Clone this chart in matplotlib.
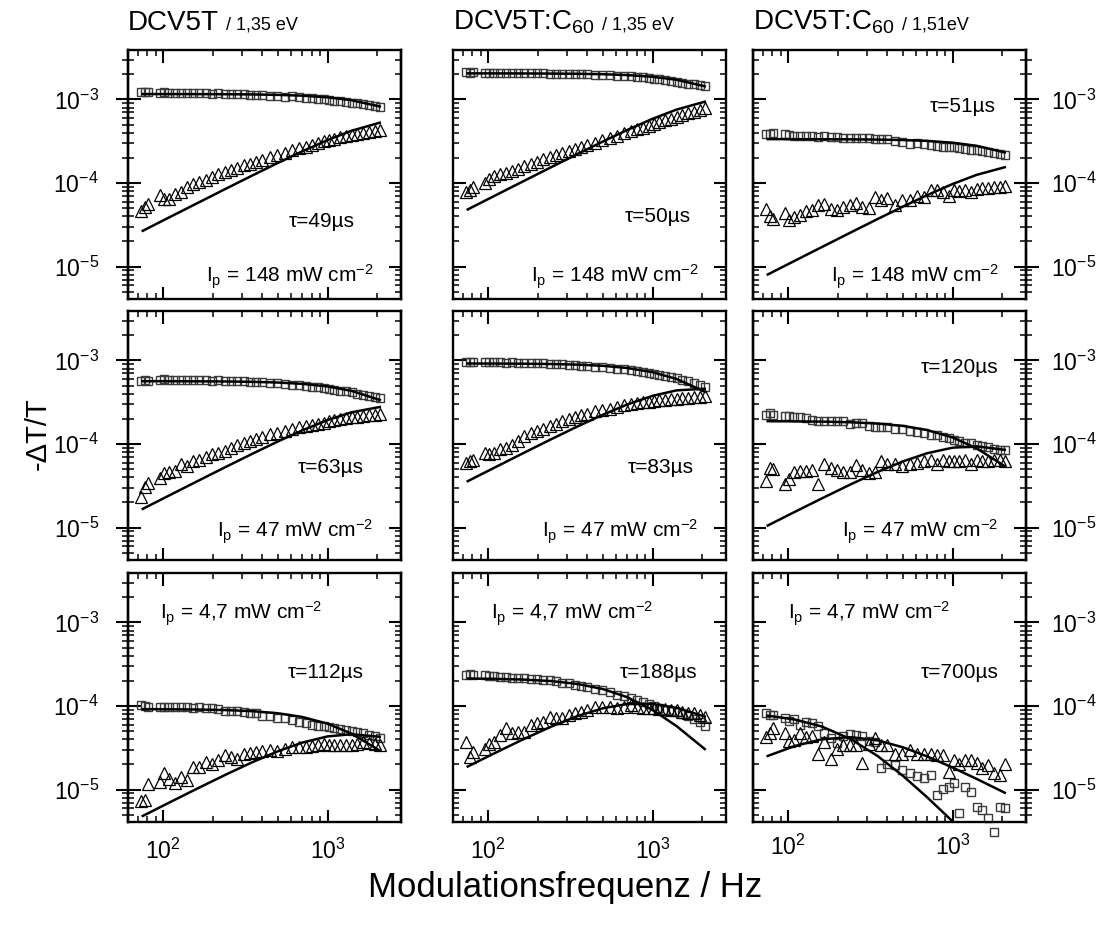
import matplotlib
matplotlib.use("Agg")
import matplotlib.pyplot as plt
from matplotlib.ticker import LogLocator, NullFormatter

plt.rcParams['font.family'] = ['Liberation Sans', 'DejaVu Sans']
plt.rcParams['mathtext.fontset'] = 'custom'
plt.rcParams['mathtext.rm'] = 'Liberation Sans'
plt.rcParams['mathtext.it'] = 'Liberation Sans:italic'
plt.rcParams['mathtext.bf'] = 'Liberation Sans:bold'

# measurement frequencies (Hz) and frequencies used for the fit curves
freq = [73, 77, 81, 95, 101, 108, 118, 128, 140, 152, 166, 181, 198, 216, 236, 258, 282, 308, 336, 367,
        400, 445, 495, 550, 610, 670, 735, 800, 870, 945, 1020, 1100, 1190, 1290, 1400, 1520, 1650, 1790, 1940, 2080]
fit_freq = [75, 110, 160, 240, 350, 500, 700, 1000, 1400, 2080]

# row 1: I_p = 148 mW cm-2
sq_00 = [1.21e-3, 1.22e-3, 1.21e-3, 1.20e-3, 1.21e-3, 1.20e-3, 1.19e-3, 1.20e-3, 1.19e-3, 1.18e-3,
         1.19e-3, 1.18e-3, 1.17e-3, 1.18e-3, 1.17e-3, 1.16e-3, 1.15e-3, 1.15e-3, 1.14e-3, 1.13e-3,
         1.12e-3, 1.11e-3, 1.10e-3, 1.08e-3, 1.09e-3, 1.07e-3, 1.05e-3, 1.03e-3, 1.01e-3, 1.00e-3,
         0.98e-3, 0.96e-3, 0.95e-3, 0.93e-3, 0.91e-3, 0.90e-3, 0.88e-3, 0.86e-3, 0.84e-3, 0.82e-3]
tri_00 = [4.6e-5, 5.1e-5, 5.6e-5, 7.1e-5, 6.5e-5, 6.4e-5, 7.4e-5, 7.8e-5, 8.9e-5, 9.8e-5,
          1.03e-4, 1.1e-4, 1.18e-4, 1.27e-4, 1.36e-4, 1.42e-4, 1.5e-4, 1.63e-4, 1.7e-4, 1.78e-4,
          1.9e-4, 2.05e-4, 2.15e-4, 2.3e-4, 2.45e-4, 2.6e-4, 2.72e-4, 2.85e-4, 3.0e-4, 3.15e-4,
          3.3e-4, 3.4e-4, 3.55e-4, 3.63e-4, 3.73e-4, 3.85e-4, 3.98e-4, 4.1e-4, 4.2e-4, 4.36e-4]
sq_fit_00 = [1.159e-3, 1.159e-3, 1.157e-3, 1.154e-3, 1.147e-3, 1.133e-3, 1.109e-3, 1.060e-3, 0.978e-3, 0.823e-3]
tri_fit_00 = [2.68e-5, 3.93e-5, 5.70e-5, 8.53e-5, 1.236e-4, 1.744e-4, 2.389e-4, 3.262e-4, 4.217e-4, 5.27e-4]

sq_01 = [2.10e-3, 2.09e-3, 2.10e-3, 2.08e-3, 2.08e-3, 2.09e-3, 2.07e-3, 2.08e-3, 2.07e-3, 2.06e-3,
         2.07e-3, 2.06e-3, 2.05e-3, 2.05e-3, 2.04e-3, 2.03e-3, 2.03e-3, 2.02e-3, 2.01e-3, 2.00e-3,
         1.99e-3, 1.98e-3, 1.96e-3, 1.95e-3, 1.93e-3, 1.91e-3, 1.88e-3, 1.85e-3, 1.83e-3, 1.80e-3,
         1.77e-3, 1.74e-3, 1.70e-3, 1.66e-3, 1.62e-3, 1.58e-3, 1.55e-3, 1.52e-3, 1.48e-3, 1.45e-3]
tri_01 = [7.8e-5, 8.3e-5, 8.9e-5, 9.9e-5, 1.12e-4, 1.2e-4, 1.28e-4, 1.32e-4, 1.38e-4, 1.48e-4,
          1.58e-4, 1.7e-4, 1.8e-4, 1.95e-4, 2.02e-4, 2.15e-4, 2.3e-4, 2.4e-4, 2.55e-4, 2.7e-4,
          2.85e-4, 3.05e-4, 3.25e-4, 3.45e-4, 3.7e-4, 3.95e-4, 4.15e-4, 4.4e-4, 4.6e-4, 4.85e-4,
          5.1e-4, 5.4e-4, 5.65e-4, 5.9e-4, 6.2e-4, 6.5e-4, 6.8e-4, 7.1e-4, 7.45e-4, 7.8e-4]
sq_fit_01 = [2.049e-3, 2.048e-3, 2.045e-3, 2.038e-3, 2.025e-3, 2.001e-3, 1.955e-3, 1.866e-3, 1.718e-3, 1.436e-3]
tri_fit_01 = [4.83e-5, 7.08e-5, 1.028e-4, 1.537e-4, 2.228e-4, 3.143e-4, 4.300e-4, 5.863e-4, 7.556e-4, 9.386e-4]

sq_02 = [3.9e-4, 3.85e-4, 4.0e-4, 3.9e-4, 3.75e-4, 3.7e-4, 3.68e-4, 3.62e-4, 3.65e-4, 3.6e-4,
         3.63e-4, 3.58e-4, 3.55e-4, 3.48e-4, 3.5e-4, 3.45e-4, 3.46e-4, 3.42e-4, 3.35e-4, 3.38e-4,
         3.32e-4, 3.2e-4, 3.12e-4, 2.96e-4, 3.05e-4, 2.9e-4, 2.85e-4, 2.8e-4, 2.72e-4, 2.68e-4,
         2.7e-4, 2.62e-4, 2.56e-4, 2.5e-4, 2.47e-4, 2.4e-4, 2.35e-4, 2.28e-4, 2.24e-4, 2.19e-4]
tri_02 = [4.9e-5, 4.0e-5, 3.75e-5, 4.4e-5, 3.6e-5, 3.9e-5, 4.2e-5, 4.6e-5, 4.8e-5, 5.5e-5,
          5.6e-5, 4.9e-5, 4.8e-5, 5.2e-5, 5.5e-5, 5.75e-5, 5.15e-5, 5.0e-5, 6.8e-5, 6.2e-5,
          6.7e-5, 5.5e-5, 6.3e-5, 6.3e-5, 6.9e-5, 6.8e-5, 8.2e-5, 8.3e-5, 7.8e-5, 6.9e-5,
          8.3e-5, 8.0e-5, 8.2e-5, 7.8e-5, 8.5e-5, 8.8e-5, 8.8e-5, 9.0e-5, 9.0e-5, 9.1e-5]
sq_fit_02 = [3.348e-4, 3.346e-4, 3.341e-4, 3.330e-4, 3.308e-4, 3.266e-4, 3.190e-4, 3.038e-4, 2.789e-4, 2.319e-4]
tri_fit_02 = [8.05e-6, 1.18e-5, 1.713e-5, 2.561e-5, 3.712e-5, 5.232e-5, 7.155e-5, 9.734e-5, 1.251e-4, 1.546e-4]

# row 2: I_p = 47 mW cm-2
sq_10 = [5.75e-4, 5.8e-4, 5.75e-4, 5.9e-4, 5.92e-4, 5.85e-4, 5.9e-4, 5.85e-4, 5.88e-4, 5.82e-4,
         5.85e-4, 5.8e-4, 5.75e-4, 5.78e-4, 5.72e-4, 5.68e-4, 5.65e-4, 5.6e-4, 5.55e-4, 5.5e-4,
         5.45e-4, 5.4e-4, 5.3e-4, 5.25e-4, 5.15e-4, 5.05e-4, 4.95e-4, 4.85e-4, 4.75e-4, 4.65e-4,
         4.55e-4, 4.45e-4, 4.35e-4, 4.25e-4, 4.15e-4, 4.0e-4, 3.9e-4, 3.8e-4, 3.68e-4, 3.56e-4]
tri_10 = [2.3e-5, 3.1e-5, 3.4e-5, 3.9e-5, 4.5e-5, 4.6e-5, 4.7e-5, 5.8e-5, 5.5e-5, 6.3e-5,
          6.5e-5, 7.0e-5, 7.5e-5, 7.8e-5, 8.3e-5, 9.0e-5, 9.8e-5, 1.03e-4, 1.1e-4, 1.16e-4,
          1.22e-4, 1.3e-4, 1.36e-4, 1.43e-4, 1.52e-4, 1.58e-4, 1.65e-4, 1.7e-4, 1.75e-4, 1.8e-4,
          1.86e-4, 1.92e-4, 1.97e-4, 2.02e-4, 2.08e-4, 2.12e-4, 2.16e-4, 2.2e-4, 2.25e-4, 2.3e-4]
sq_fit_10 = [5.645e-4, 5.639e-4, 5.627e-4, 5.599e-4, 5.544e-4, 5.437e-4, 5.247e-4, 4.885e-4, 4.323e-4, 3.367e-4]
tri_fit_10 = [1.676e-5, 2.455e-5, 3.564e-5, 5.319e-5, 7.678e-5, 1.076e-4, 1.454e-4, 1.933e-4, 2.396e-4, 2.772e-4]

sq_11 = [9.5e-4, 9.6e-4, 9.55e-4, 9.5e-4, 9.55e-4, 9.5e-4, 9.45e-4, 9.4e-4, 9.45e-4, 9.4e-4,
         9.35e-4, 9.3e-4, 9.25e-4, 9.2e-4, 9.1e-4, 9.05e-4, 8.95e-4, 8.85e-4, 8.75e-4, 8.65e-4,
         8.55e-4, 8.45e-4, 8.3e-4, 8.2e-4, 8.0e-4, 7.85e-4, 7.7e-4, 7.5e-4, 7.3e-4, 7.1e-4,
         6.9e-4, 6.7e-4, 6.5e-4, 6.3e-4, 6.1e-4, 5.85e-4, 5.6e-4, 5.35e-4, 5.05e-4, 4.75e-4]
tri_11 = [5.9e-5, 6.2e-5, 6.5e-5, 7.8e-5, 7.6e-5, 7.8e-5, 8.6e-5, 9.0e-5, 9.8e-5, 1.1e-4,
          1.24e-4, 1.35e-4, 1.42e-4, 1.5e-4, 1.66e-4, 1.75e-4, 1.87e-4, 2.0e-4, 2.12e-4, 2.2e-4,
          2.28e-4, 2.47e-4, 2.55e-4, 2.65e-4, 2.78e-4, 2.9e-4, 3.0e-4, 3.1e-4, 3.15e-4, 3.2e-4,
          3.28e-4, 3.34e-4, 3.38e-4, 3.42e-4, 3.48e-4, 3.56e-4, 3.6e-4, 3.64e-4, 3.68e-4, 3.73e-4]
sq_fit_11 = [9.186e-4, 9.170e-4, 9.136e-4, 9.058e-4, 8.903e-4, 8.614e-4, 8.118e-4, 7.233e-4, 6.001e-4, 4.227e-4]
tri_fit_11 = [3.593e-5, 5.261e-5, 7.623e-5, 1.134e-4, 1.625e-4, 2.247e-4, 2.964e-4, 3.772e-4, 4.381e-4, 4.585e-4]

sq_12 = [2.25e-4, 2.36e-4, 2.2e-4, 2.15e-4, 2.18e-4, 2.12e-4, 2.13e-4, 2.05e-4, 1.95e-4, 1.9e-4,
         1.88e-4, 1.87e-4, 1.9e-4, 1.86e-4, 1.75e-4, 1.8e-4, 1.78e-4, 1.65e-4, 1.62e-4, 1.6e-4,
         1.6e-4, 1.53e-4, 1.5e-4, 1.45e-4, 1.38e-4, 1.35e-4, 1.29e-4, 1.27e-4, 1.22e-4, 1.17e-4,
         1.12e-4, 1.08e-4, 1.04e-4, 1.02e-4, 9.8e-5, 9.5e-5, 9.1e-5, 8.8e-5, 8.5e-5, 8.5e-5]
tri_12 = [3.6e-5, 5.2e-5, 5.0e-5, 3.3e-5, 3.8e-5, 4.6e-5, 4.7e-5, 4.8e-5, 4.9e-5, 3.3e-5,
          5.8e-5, 5.2e-5, 4.9e-5, 4.6e-5, 4.6e-5, 5.6e-5, 4.9e-5, 4.5e-5, 4.6e-5, 6.2e-5,
          5.8e-5, 5.8e-5, 5.4e-5, 5.8e-5, 6.0e-5, 6.3e-5, 6.4e-5, 5.8e-5, 6.4e-5, 6.2e-5,
          6.2e-5, 6.3e-5, 6.4e-5, 5.8e-5, 6.4e-5, 6.2e-5, 6.3e-5, 6.5e-5, 6.4e-5, 6.2e-5]
sq_fit_12 = [1.874e-4, 1.867e-4, 1.853e-4, 1.820e-4, 1.758e-4, 1.646e-4, 1.470e-4, 1.199e-4, 8.892e-5, 5.434e-5]
tri_fit_12 = [1.060e-5, 1.549e-5, 2.235e-5, 3.294e-5, 4.639e-5, 6.205e-5, 7.759e-5, 9.04e-5, 9.386e-5, 8.522e-5]

# row 3: I_p = 4,7 mW cm-2
sq_20 = [1.03e-4, 1.0e-4, 9.8e-5, 9.7e-5, 9.8e-5, 9.8e-5, 9.7e-5, 9.8e-5, 9.8e-5, 9.6e-5,
         9.7e-5, 9.5e-5, 9.4e-5, 9.3e-5, 8.6e-5, 8.7e-5, 8.6e-5, 8.4e-5, 8.3e-5, 8.2e-5,
         7.7e-5, 7.6e-5, 7.1e-5, 7.2e-5, 6.8e-5, 6.5e-5, 6.2e-5, 6.0e-5, 5.8e-5, 5.7e-5,
         5.6e-5, 5.4e-5, 5.3e-5, 5.1e-5, 5.0e-5, 4.9e-5, 4.7e-5, 4.5e-5, 4.4e-5, 4.2e-5]
tri_20 = [7.4e-6, 7.6e-6, 1.18e-5, 1.24e-5, 1.56e-5, 1.33e-5, 1.21e-5, 1.42e-5, 1.3e-5, 1.87e-5,
          1.87e-5, 2.15e-5, 2.05e-5, 2.25e-5, 2.58e-5, 2.47e-5, 2.35e-5, 2.7e-5, 2.75e-5, 2.83e-5,
          2.91e-5, 2.95e-5, 2.88e-5, 3.1e-5, 3.25e-5, 3.2e-5, 3.25e-5, 3.3e-5, 3.4e-5, 3.56e-5,
          3.46e-5, 3.45e-5, 3.46e-5, 3.4e-5, 3.46e-5, 3.5e-5, 3.73e-5, 3.6e-5, 3.56e-5, 3.4e-5]
sq_fit_20 = [9.174e-5, 9.145e-5, 9.085e-5, 8.945e-5, 8.674e-5, 8.186e-5, 7.403e-5, 6.153e-5, 4.669e-5, 2.928e-5]
tri_fit_20 = [4.842e-6, 7.079e-6, 1.023e-5, 1.511e-5, 2.136e-5, 2.881e-5, 3.647e-5, 4.330e-5, 4.600e-5, 4.286e-5]

sq_21 = [2.36e-4, 2.4e-4, 2.36e-4, 2.33e-4, 2.31e-4, 2.28e-4, 2.25e-4, 2.2e-4, 2.19e-4, 2.16e-4,
         2.15e-4, 2.12e-4, 2.1e-4, 2.05e-4, 2.02e-4, 1.98e-4, 1.9e-4, 1.86e-4, 1.79e-4, 1.75e-4,
         1.71e-4, 1.62e-4, 1.55e-4, 1.46e-4, 1.35e-4, 1.3e-4, 1.24e-4, 1.18e-4, 1.12e-4, 1.06e-4,
         1.0e-4, 9.4e-5, 9.0e-5, 8.8e-5, 8.4e-5, 8.0e-5, 7.5e-5, 7.0e-5, 6.4e-5, 5.8e-5]
tri_21 = [3.73e-5, 2.47e-5, 2.83e-5, 3.1e-5, 3.5e-5, 3.73e-5, 4.49e-5, 5.4e-5, 4.7e-5, 4.9e-5,
          4.92e-5, 5.9e-5, 6.2e-5, 6.5e-5, 7.45e-5, 7.2e-5, 7.25e-5, 7.8e-5, 8.17e-5, 8.5e-5,
          8.95e-5, 9.8e-5, 9.8e-5, 9.8e-5, 9.5e-5, 9.8e-5, 1.03e-4, 9.8e-5, 9.4e-5, 9.4e-5,
          9.4e-5, 9.3e-5, 9.2e-5, 9.0e-5, 8.9e-5, 8.55e-5, 8.2e-5, 8.17e-5, 7.8e-5, 7.45e-5]
sq_fit_21 = [2.133e-4, 2.114e-4, 2.076e-4, 1.990e-4, 1.836e-4, 1.594e-4, 1.277e-4, 8.976e-5, 5.757e-5, 3.055e-5]
tri_fit_21 = [1.890e-5, 2.746e-5, 3.924e-5, 5.642e-5, 7.590e-5, 9.414e-5, 1.056e-4, 1.060e-4, 9.520e-5, 7.507e-5]

sq_22 = [8.2e-5, 7.9e-5, 7.8e-5, 7.2e-5, 6.6e-5, 6.9e-5, 6.0e-5, 6.5e-5, 6.3e-5, 5.7e-5,
         4.7e-5, 4.2e-5, 3.6e-5, 4.4e-5, 4.6e-5, 4.5e-5, 4.4e-5, 3.8e-5, 3.7e-5, 1.8e-5,
         2.05e-5, 1.98e-5, 1.7e-5, 1.6e-5, 1.45e-5, 1.36e-5, 1.5e-5, 8.6e-6, 1.03e-5, 1.08e-5,
         1.2e-5, 5.3e-6, 1.08e-5, 9.4e-6, 6.2e-6, 5.7e-6, 4.6e-6, 3.1e-6, 6.2e-6, 6.0e-6]
tri_22 = [4.3e-5, 4.7e-5, 5.4e-5, 4.8e-5, 3.8e-5, 3.9e-5, 4.8e-5, 4.3e-5, 4.4e-5, 2.7e-5,
          3.7e-5, 2.35e-5, 3.1e-5, 3.4e-5, 3.4e-5, 3.4e-5, 2.1e-5, 3.55e-5, 4.1e-5, 3.4e-5,
          3.4e-5, 2.7e-5, 2.7e-5, 2.97e-5, 2.7e-5, 2.7e-5, 2.7e-5, 2.58e-5, 2.58e-5, 1.63e-5,
          2.25e-5, 2.05e-5, 2.25e-5, 2.25e-5, 2.1e-5, 1.79e-5, 1.96e-5, 1.56e-5, 1.49e-5, 2.0e-5]
sq_fit_22 = [7.666e-5, 6.888e-5, 5.685e-5, 4.020e-5, 2.522e-5, 1.456e-5, 8.11e-6, 4.18e-6, 2.18e-6, 1.0e-6]
tri_fit_22 = [2.529e-5, 3.333e-5, 4.001e-5, 4.245e-5, 3.883e-5, 3.203e-5, 2.497e-5, 1.837e-5, 1.345e-5, 9.18e-6]

squares = [[sq_00, sq_01, sq_02], [sq_10, sq_11, sq_12], [sq_20, sq_21, sq_22]]
triangles = [[tri_00, tri_01, tri_02], [tri_10, tri_11, tri_12], [tri_20, tri_21, tri_22]]
sq_fits = [[sq_fit_00, sq_fit_01, sq_fit_02], [sq_fit_10, sq_fit_11, sq_fit_12], [sq_fit_20, sq_fit_21, sq_fit_22]]
tri_fits = [[tri_fit_00, tri_fit_01, tri_fit_02], [tri_fit_10, tri_fit_11, tri_fit_12], [tri_fit_20, tri_fit_21, tri_fit_22]]

tau_labels = [["τ=49µs", "τ=50µs", "τ=51µs"],
              ["τ=63µs", "τ=83µs", "τ=120µs"],
              ["τ=112µs", "τ=188µs", "τ=700µs"]]
intensity = ["148", "47", "4,7"]
titles = [("DCV5T", "/ 1,35 eV"), ("DCV5T:C$_{60}$", "/ 1,35 eV"), ("DCV5T:C$_{60}$", "/ 1,51eV")]

# text anchors (axes fraction)
tau_pos = [[(0.83, 0.29), (0.87, 0.31), (0.89, 0.75)],
           [(0.865, 0.35), (0.88, 0.35), (0.90, 0.75)],
           [(0.865, 0.577), (0.895, 0.577), (0.90, 0.58)]]
ip_y = [0.068, 0.09, 0.815]
ip_left = [0.118, 0.14, 0.13]

FW, FH = 1100, 931
col_x = [128, 453, 753]
row_y = [50, 311, 573]
AW, AH = 273, 249


def log_ticks(axis):
    axis.set_major_locator(LogLocator(base=10, numticks=10))
    axis.set_minor_locator(LogLocator(base=10, subs=range(2, 10), numticks=30))
    axis.set_minor_formatter(NullFormatter())


def tick_sizes(a, **kw):
    a.tick_params(which='major', length=9, width=1.5, **kw)
    a.tick_params(which='minor', length=4.5, width=1.1)


fig = plt.figure(figsize=(FW / 100, FH / 100), dpi=100)

for r in range(3):
    for c in range(3):
        ax = fig.add_axes([col_x[c] / FW, 1 - (row_y[r] + AH) / FH, AW / FW, AH / FH])
        ax.set_xscale('log')
        ax.set_yscale('log')

        ax.plot(freq, squares[r][c], ls='none', marker='s', ms=6.3, mfc='none',
                mec='#3a3a3a', mew=1.0, clip_on=False)
        ax.plot(freq, triangles[r][c], ls='none', marker='^', ms=8, mfc='none',
                mec='black', mew=0.9, clip_on=False)
        ax.plot(fit_freq, sq_fits[r][c], color='black', lw=1.8)
        ax.plot(fit_freq, tri_fits[r][c], color='black', lw=1.8)

        ax.set_xlim(61, 2800)
        ax.set_ylim(4.1e-6, 3.9e-3)
        log_ticks(ax.xaxis)
        log_ticks(ax.yaxis)

        ax.tick_params(axis='x', which='both', direction='in', top=True, bottom=True,
                       labelbottom=(r == 2), labelsize=16.5)
        ax.tick_params(axis='x', which='major', pad=12)
        for sp in ax.spines.values():
            sp.set_linewidth(1.7)

        if c == 1:
            ax.tick_params(axis='y', which='both', direction='in', left=True, right=True,
                           labelleft=False, labelright=False)
            tick_sizes(ax)
        else:
            # labelled outer side: ticks point outwards; inward ticks come from secondary axes
            outer_left = (c == 0)
            ax.tick_params(axis='y', which='both', direction='out', left=outer_left, right=not outer_left,
                           labelleft=outer_left, labelright=not outer_left, labelsize=16.5)
            tick_sizes(ax, pad=12 if outer_left else 9)
            for side in ('left', 'right'):
                sec = ax.secondary_yaxis(side)
                log_ticks(sec.yaxis)
                sec.tick_params(which='both', direction='in', labelleft=False, labelright=False)
                tick_sizes(sec)
                sec.spines[side].set_linewidth(1.7)

        tx, ty = tau_pos[r][c]
        ax.text(tx, ty, tau_labels[r][c], transform=ax.transAxes, ha='right', va='baseline', fontsize=15)
        ip_text = "I$_\\mathrm{p}$ = " + intensity[r] + " mW cm$^{-2}$"
        if r < 2:
            ax.text(0.90, ip_y[r], ip_text, transform=ax.transAxes,
                    ha='right', va='baseline', fontsize=15)
        else:
            ax.text(ip_left[c], ip_y[r], ip_text, transform=ax.transAxes,
                    ha='left', va='baseline', fontsize=15)

# column titles: large name followed by a smaller energy label on the same baseline
fig.canvas.draw()
renderer = fig.canvas.get_renderer()
for c, (main, sub) in enumerate(titles):
    t = fig.text(col_x[c] / FW, 1 - 30 / FH, main, fontsize=20, va='baseline')
    bb = t.get_window_extent(renderer)
    fig.text((bb.x1 + 7) / FW, 1 - 30 / FH, sub, fontsize=13, va='baseline')

fig.text(38 / FW, 1 - 434 / FH, "-ΔT/T", rotation=90, fontsize=21, ha='center', va='center')
fig.text(565 / FW, 1 - 888 / FH, "Modulationsfrequenz / Hz", fontsize=25, ha='center', va='center')

fig.savefig("out.png", dpi=100)
